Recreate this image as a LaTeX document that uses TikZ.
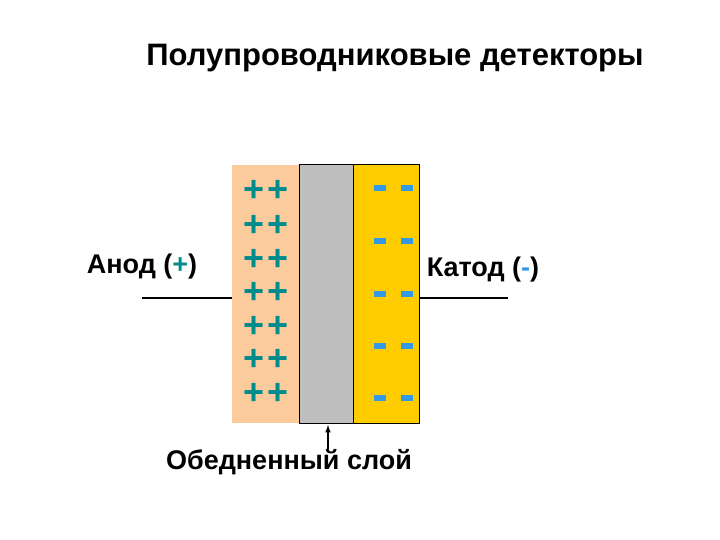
\documentclass[tikz,border=0pt]{standalone}
\usepackage{fontspec}
\setmainfont{Liberation Sans}
\definecolor{peach}{HTML}{FCCB9C}
\definecolor{gold}{HTML}{FFCC00}
\definecolor{grayl}{HTML}{BEBEBE}
\definecolor{teal2}{HTML}{008C8C}
\definecolor{blu}{HTML}{3399E6}
\begin{document}
\begin{tikzpicture}[x=1pt,y=-1pt,
  lbl/.style={font=\fontsize{27}{30}\selectfont\bfseries},
  plus/.style={font=\fontsize{36}{36}\selectfont\bfseries,text=teal2,inner sep=0},
  minus/.style={fill=blu,minimum width=12pt,minimum height=6pt,inner sep=0}]
\useasboundingbox (0,0) rectangle (720,540);
\node[font=\fontsize{31}{34}\selectfont\bfseries] (title) at (395,58) {Полупроводниковые детекторы};
\fill[peach] (232,165) rectangle (299,423);
\filldraw[fill=grayl,draw=black,line width=1pt] (299,165) rectangle (353,423);
\filldraw[fill=gold,draw=black,line width=1pt] (353,165) rectangle (419,423);
\coordinate (lA) at (232,298); \coordinate (rK) at (419,298);
\coordinate (la) at (142,298); \coordinate (rk) at (508,298);
\draw[line width=1.3pt] (la) -- (lA);
\draw[line width=1.3pt] (rK) -- (rk);
\foreach \y [count=\i] in {191,226,260,293,327,360,394}{
  \node[plus] (pa\i) at (254,\y) {+};
  \node[plus] (pb\i) at (278,\y) {+};}
\foreach \y [count=\i] in {188,241,294,346,398}{
  \node[minus] (ma\i) at (380,\y) {};
  \node[minus] (mb\i) at (407,\y) {};}
\node[lbl] (anod) at (142,267) {Анод (\textcolor{teal2}{+})};
\node[lbl] (katod) at (483,270) {Катод (\textcolor{blu}{-})};
\node[lbl] (sloy) at (289,462) {Обедненный слой};
\coordinate (arr) at (328,425);
\draw[-latex,line width=1.5pt] (328,449) -- (arr);
\end{tikzpicture}
\end{document}
